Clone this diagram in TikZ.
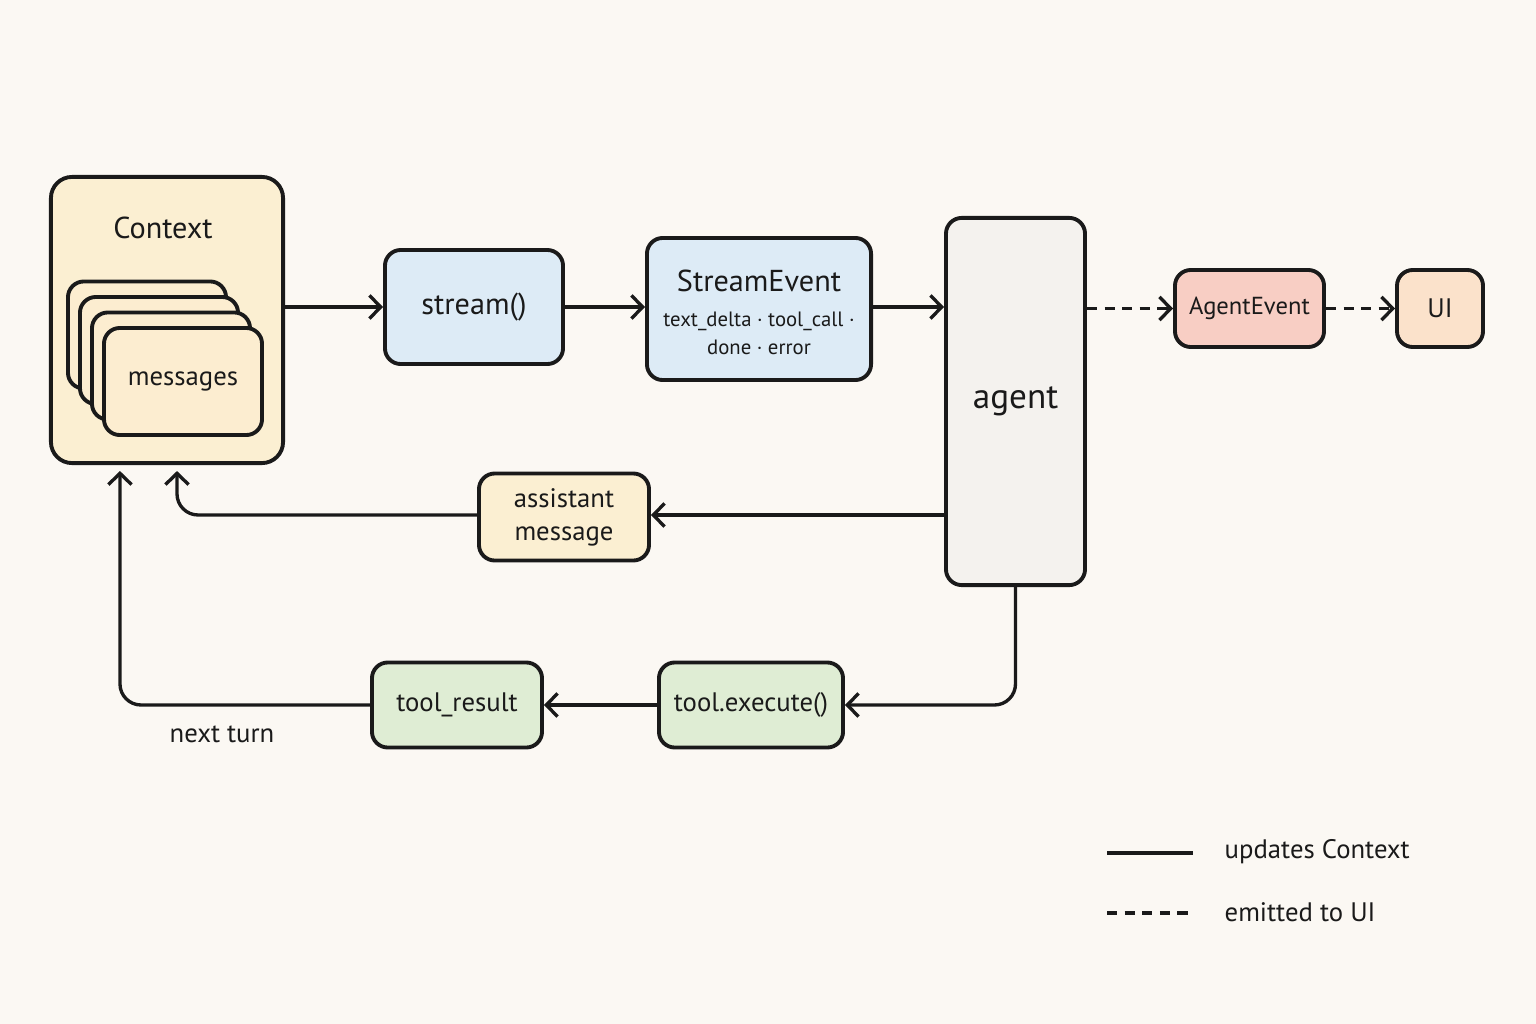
\documentclass[tikz,border=0pt]{standalone}
\usepackage{fontspec}
\setmainfont{PT Sans}
\usepackage{xcolor}
\usepackage{tikz}
\usetikzlibrary{arrows.meta,positioning}

\definecolor{paper}{HTML}{FBF8F3}
\definecolor{ctxfill}{HTML}{FBEFD2}
\definecolor{msgfill}{HTML}{FBE6BC}
\definecolor{bluefill}{HTML}{DDEBF6}
\definecolor{agentfill}{HTML}{F4F2EE}
\definecolor{pinkfill}{HTML}{F8CEC4}
\definecolor{peachfill}{HTML}{FBE2CB}
\definecolor{greenfill}{HTML}{DFEDD4}
\definecolor{ink}{HTML}{1A1A1A}

\begin{document}
\begin{tikzpicture}[x=0.01cm, y=-0.01cm, >={Straight Barb[length=3.2pt,width=6.6pt]},
  every node/.style={font=\fontsize{7.6}{9.4}\selectfont, text=ink, align=center},
  box/.style={draw=ink, line width=1.1pt, rounded corners=4.5pt, inner sep=0pt},
  flow/.style={draw=ink, line width=0.95pt, ->},
  emit/.style={flow, dash pattern=on 2.9pt off 2.1pt},
  small/.style={font=\fontsize{5.9}{8}\selectfont},
  big/.style={font=\fontsize{8.6}{10}\selectfont}]
  \useasboundingbox[fill=paper] (0,0) rectangle (1536,1024);

  % context with stacked messages
  \node[box, fill=ctxfill, rounded corners=6pt, minimum width=2.32cm, minimum height=2.86cm] (context) at (167,320) {};
  \node[big] (ctxlabel) at (163,228) {Context};
  \foreach \i in {0,...,3}
    \node[box, fill=msgfill!70, minimum width=1.58cm, minimum height=1.07cm] (card\i) at (147+12*\i, 335+15.5*\i) {};
  \node (msglabel) at (card3) {messages};

  % top row
  \node[box, big, fill=bluefill, minimum width=1.78cm, minimum height=1.14cm] (stream) at (474,307) {stream()};
  \node[box, fill=bluefill, minimum width=2.24cm, minimum height=1.42cm] (sevent) at (759,309) {};
  \node[big] (seventlabel) at (759,281) {StreamEvent};
  \node[small] (seventsub) at (759,333) {text\_delta · tool\_call ·\\done · error};
  \node[box, fill=agentfill, minimum width=1.39cm, minimum height=3.67cm, font=\fontsize{10}{12}\selectfont] (agent) at (1015.5,401.5) {agent};
  \node[box, fill=pinkfill, minimum width=1.49cm, minimum height=0.77cm, font=\fontsize{7}{9}\selectfont] (aevent) at (1249.5,308.5) {AgentEvent};
  \node[box, fill=peachfill, minimum width=0.86cm, minimum height=0.77cm] (ui) at (1440,308.5) {UI};

  % return path
  \node[box, fill=ctxfill, minimum width=1.70cm, minimum height=0.87cm] (asst) at (564,517) {assistant\\message};
  \node[box, fill=greenfill, minimum width=1.84cm, minimum height=0.85cm] (toolexec) at (751,705) {tool.execute()};
  \node[box, fill=greenfill, minimum width=1.70cm, minimum height=0.85cm] (toolres) at (457,705) {tool\_result};
  \node (nextturn) at (222,734) {next turn};

  \draw[flow] (context.east |- stream.west) -- (stream.west);
  \draw[flow] (stream.east) -- (stream.east -| sevent.west);
  \draw[flow] (sevent.east |- stream.east) -- (agent.west |- stream.east);
  \draw[emit] (agent.east |- aevent.west) -- (aevent.west);
  \draw[emit] (aevent.east) -- (ui.west);
  \draw[flow] (agent.west |- 0,515) -- (asst.east |- 0,515);
  \draw[flow, rounded corners=6pt] (asst.west |- 0,515) -| ([xshift=0.1cm, yshift=-0.06cm]context.south);
  \draw[flow, rounded corners=6pt] (agent.south) |- (toolexec.east);
  \draw[flow] (toolexec.west) -- (toolres.east);
  \draw[flow, rounded corners=6pt] (toolres.west) -| ([xshift=-0.47cm, yshift=-0.06cm]context.south);

  % legend
  \coordinate (solidA) at (1107,853);
  \coordinate (solidB) at (1193,853);
  \coordinate (dashA) at (1107,913);
  \coordinate (dashB) at (1193,913);
  \draw[draw=ink, line width=0.95pt] (solidA) -- (solidB);
  \draw[draw=ink, line width=0.95pt, dash pattern=on 2.9pt off 2.1pt] (dashA) -- (dashB);
  \node[anchor=west, inner sep=0pt] (solidtext) at (1224,852) {updates Context};
  \node[anchor=west, inner sep=0pt] (dashtext) at (1224,912) {emitted to UI};
\end{tikzpicture}
\end{document}
